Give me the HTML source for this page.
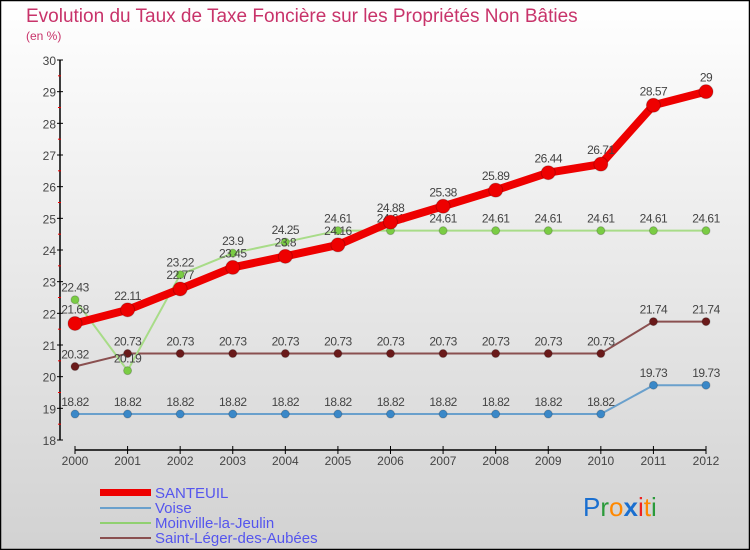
<!DOCTYPE html>
<html><head><meta charset="utf-8"><style>
body{margin:0;}
#c{width:750px;height:550px;position:relative;overflow:hidden;}
svg text{font-family:"Liberation Sans",sans-serif;}
</style></head><body>
<div id="c">
<svg id="s" width="750" height="550" xmlns="http://www.w3.org/2000/svg">
<defs><linearGradient id="bg" x1="0" y1="0" x2="0" y2="1"><stop offset="0" stop-color="#ffffff"/><stop offset="1" stop-color="#d2d2d2"/></linearGradient></defs>
<rect x="0.5" y="0.5" width="749" height="549" fill="url(#bg)" stroke="#000" stroke-width="1.5"/>
<text x="26" y="22" font-size="19" fill="#c8336a">Evolution du Taux de Taxe Foncière sur les Propriétés Non Bâties</text>
<text x="26" y="40" font-size="12" fill="#c8336a">(en %)</text>
<g id="axes"></g><g id="series"></g>
<g font-size="15" fill="#5555ee">
<rect x="100" y="489" width="51" height="7" fill="#ee0000"/>
<text x="155" y="498">SANTEUIL</text>
<line x1="100" y1="508" x2="151" y2="508" stroke="#6aa0cc" stroke-width="2"/>
<text x="155" y="513">Voise</text>
<line x1="100" y1="523" x2="151" y2="523" stroke="#90d070" stroke-width="2"/>
<text x="155" y="528">Moinville-la-Jeulin</text>
<line x1="100" y1="538" x2="151" y2="538" stroke="#8a5050" stroke-width="2"/>
<text x="155" y="543">Saint-Léger-des-Aubées</text>
</g>
<text x="583" y="516" font-size="26"><tspan fill="#1a6fd0">P</tspan><tspan fill="#2a9a3a">r</tspan><tspan fill="#ff8800">o</tspan><tspan fill="#1a6fd0" font-weight="bold">x</tspan><tspan fill="#ee2222">i</tspan><tspan fill="#ff8800">t</tspan><tspan fill="#2a9a3a">i</tspan></text>
</svg></div>
<script>
const years=[2000,2001,2002,2003,2004,2005,2006,2007,2008,2009,2010,2011,2012];
const santeuil=[21.68,22.11,22.77,23.45,23.8,24.16,24.88,25.38,25.89,26.44,26.71,28.57,29];
const voise=[18.82,18.82,18.82,18.82,18.82,18.82,18.82,18.82,18.82,18.82,18.82,19.73,19.73];
const moinville=[22.43,20.19,23.22,23.9,24.25,24.61,24.61,24.61,24.61,24.61,24.61,24.61,24.61];
const stleger=[20.32,20.73,20.73,20.73,20.73,20.73,20.73,20.73,20.73,20.73,20.73,21.74,21.74];
const yTicks=[18,19,20,21,22,23,24,25,26,27,28,29,30];
const NS="http://www.w3.org/2000/svg";
const X=i=>75+i*(706-75)/(years.length-1);
const Y=v=>440-(v-18)*(380/12);
function el(t,a,p){const e=document.createElementNS(NS,t);for(const k in a)e.setAttribute(k,a[k]);p.appendChild(e);return e;}
const ax=document.getElementById('axes');
let yl=el('line',{x1:60,y1:60,x2:60,y2:440,stroke:'#000','stroke-width':1.5},ax);


yTicks.forEach(t=>{
 el('line',{x1:57,y1:Y(t),x2:63,y2:Y(t),stroke:'#000'},ax);
 if(t<30) el('line',{x1:58,y1:Y(t+0.5),x2:61,y2:Y(t+0.5),stroke:'#ee0000'},ax);
 const tx=el('text',{x:56,y:Y(t)+5,'font-size':12,fill:'#444','text-anchor':'end'},ax);tx.textContent=t;
 
 
});
let xl=el('line',{x1:75,y1:450,x2:706,y2:450,stroke:'#000','stroke-width':1.5},ax);


years.forEach((y,i)=>{
 el('line',{x1:X(i),y1:446,x2:X(i),y2:454,stroke:'#000'},ax);
 const tx=el('text',{x:X(i),y:465,'font-size':12,fill:'#444','text-anchor':'middle'},ax);tx.textContent=y;
 
 
});
const sg=document.getElementById('series');
function series(vals,name,col,w,r,dot){
 const g=el('g',{},sg);
 
 
 el('polyline',{points:vals.map((v,i)=>X(i)+','+Y(v)).join(' '),fill:'none',stroke:col,'stroke-width':w,'stroke-linejoin':'round'},g);
 vals.forEach((v,i)=>{
  const c=el('circle',{cx:X(i),cy:Y(v),r:r,fill:dot,stroke:'rgba(0,0,0,0.2)'},g);
  
  
  const t=el('text',{x:X(i),y:Y(v)-8-(r>4?2:0),'font-size':12,fill:'#444','text-anchor':'middle','letter-spacing':'-0.5'},g);t.textContent=v;
  
  
 });
}
series(voise,'voise-series','#6aa0cc',2,4,'#3a88c8');
series(stleger,'saint-leger-series','#8a5050',2,4,'#6a1a1a');
series(moinville,'moinville-series','#a8dc88',2,4,'#7acc44');
series(santeuil,'santeuil-series','#ee0000',8,7,'#ee0000');
</script>
</body></html>
